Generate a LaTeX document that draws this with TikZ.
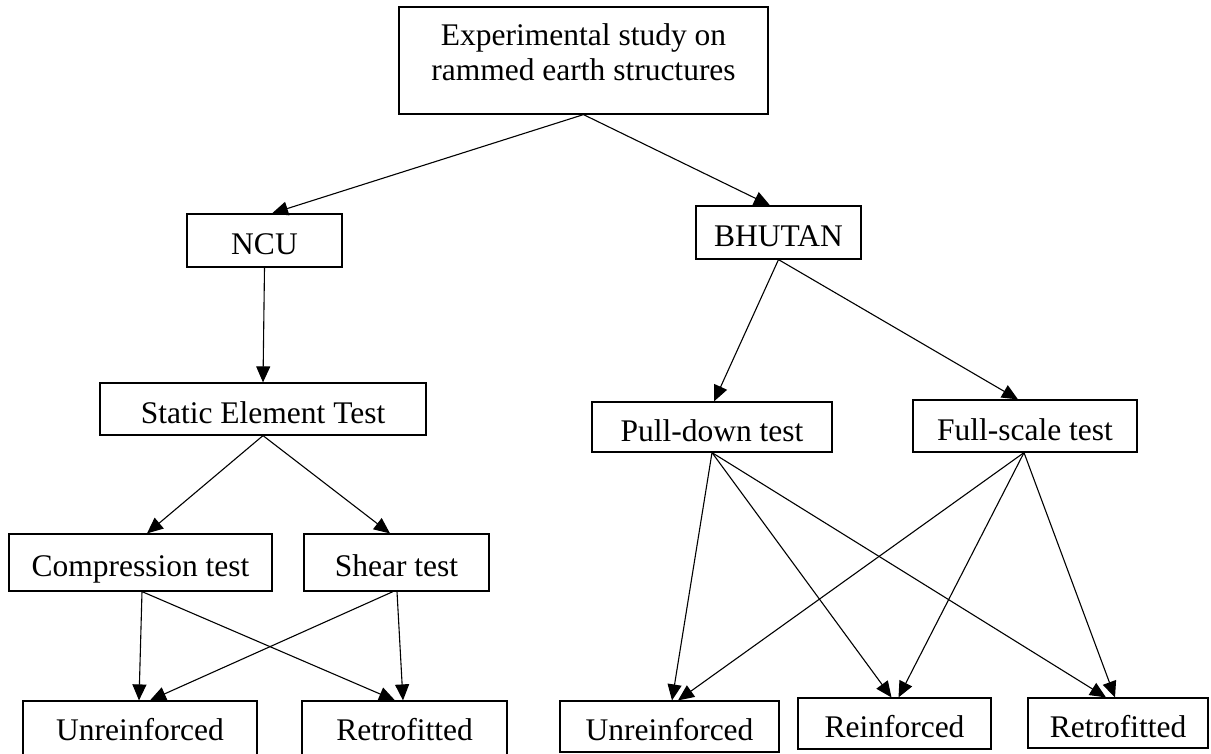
\documentclass[tikz,border=0pt]{standalone}
\usepackage{fontspec}
\setmainfont{Liberation Serif}
\usetikzlibrary{arrows.meta}
\begin{document}
\begin{tikzpicture}[x=1pt,y=-1pt,
  box/.style={draw=black,line width=1.2pt,inner sep=0pt,minimum width=#1,anchor=center},
  lbl/.style={font=\fontsize{31.5}{35}\selectfont,align=center,inner sep=0pt},
  one/.style={text height=30pt,text depth=2pt},
  low/.style={text height=23pt,text depth=2pt},
  conn/.style={line width=1.1pt,-{Triangle[length=16pt,width=14pt]}}]
\clip (0,0) rectangle (1211,753);
\fill[white] (0,0) rectangle (1211,753);
% boxes
\node[box=369pt,minimum height=107pt] (top) at (583.5,60.5) {};
\node[lbl] (toptext) at (583.5,52) {Experimental study on\\rammed earth structures};
\node[box=155pt,minimum height=53pt,lbl,one] (ncu) at (264.5,240.5) {NCU};
\node[box=165pt,minimum height=53pt,lbl,one] (bhutan) at (778.5,232.5) {BHUTAN};
\node[box=326pt,minimum height=52pt,lbl,one] (static) at (263,409) {Static Element Test};
\node[box=263pt,minimum height=57pt,lbl,one] (comp) at (140.5,562.5) {Compression test};
\node[box=185pt,minimum height=57pt,lbl,one] (shear) at (396.5,562.5) {Shear test};
\node[box=234pt,minimum height=57pt,lbl,low] (unl) at (140,729.5) {Unreinforced};
\node[box=205pt,minimum height=57pt,lbl,low] (retl) at (404.5,729.5) {Retrofitted};
\node[box=240pt,minimum height=50pt,lbl,one] (pull) at (712,427) {Pull-down test};
\node[box=224pt,minimum height=52pt,lbl,one] (full) at (1025,426) {Full-scale test};
\node[box=219pt,minimum height=51pt,lbl,one] (unr) at (669.5,726.5) {Unreinforced};
\node[box=193pt,minimum height=51pt,lbl,one] (reinf) at (894.5,723.5) {Reinforced};
\node[box=180pt,minimum height=50pt,lbl,one] (retr) at (1118,723) {Retrofitted};
% connectors
\draw[conn] (top.south) -- ([xshift=7.5pt]ncu.north);
\draw[conn] (top.south) -- ([xshift=-8.5pt]bhutan.north);
\draw[conn] (ncu.south) -- (static.north);
\draw[conn] (static.south) -- ([xshift=6.5pt]comp.north);
\draw[conn] (static.south) -- ([xshift=-6.5pt]shear.north);
\draw[conn] ([xshift=1.5pt]comp.south) -- ([xshift=-1pt]unl.north);
\draw[conn] ([xshift=1.5pt]comp.south) -- ([xshift=-9.5pt]retl.north);
\draw[conn] ([xshift=-3.5pt]shear.south) -- ([xshift=10pt]unl.north);
\draw[conn] ([xshift=0.5pt]shear.south) -- ([xshift=-1.5pt]retl.north);
\draw[conn] (bhutan.south) -- ([xshift=2pt]pull.north);
\draw[conn] (bhutan.south) -- ([xshift=-7pt]full.north);
\draw[conn] (pull.south) -- ([xshift=2.5pt]unr.north);
\draw[conn] (pull.south) -- ([xshift=-3pt]reinf.north);
\draw[conn] (pull.south) -- ([xshift=-12pt]retr.north);
\draw[conn] ([xshift=-1pt]full.south) -- ([xshift=8.5pt]unr.north);
\draw[conn] ([xshift=-1pt]full.south) -- ([xshift=4pt]reinf.north);
\draw[conn] ([xshift=-1pt]full.south) -- ([xshift=-3pt]retr.north);
\end{tikzpicture}
\end{document}
